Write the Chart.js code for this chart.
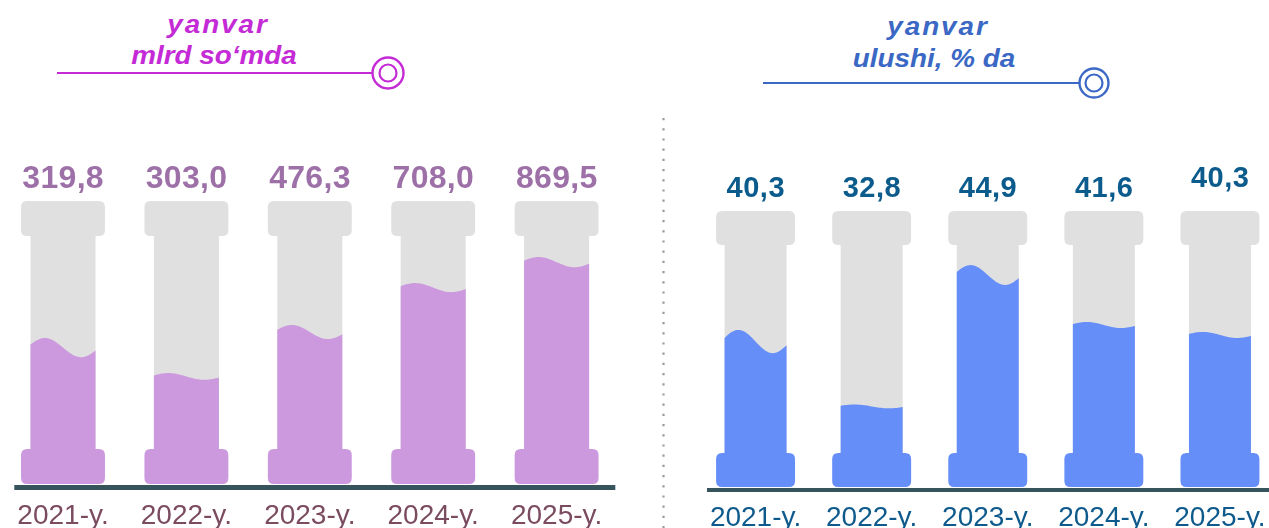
<!DOCTYPE html>
<html>
<head>
<meta charset="utf-8">
<script src="https://cdn.jsdelivr.net/npm/chart.js@4.4.1/dist/chart.umd.min.js"></script>
<style>
  html, body { margin:0; padding:0; width:1269px; height:528px; overflow:hidden; background:#ffffff; }
  body { position:relative; font-family:"Liberation Sans", Arial, sans-serif; }
  #leftBox { position:absolute; left:0; top:0; width:640px; height:528px; }
  #rightBox { position:absolute; left:680px; top:0; width:620px; height:528px; }
  .t { position:absolute; white-space:nowrap; font-weight:bold; font-style:italic; font-size:26px; line-height:30px; transform:translateX(-50%) scaleX(1.07); }
  .tl { color:#c42ad6; }
  .tr { color:#3a68c4; }
  svg.deco { position:absolute; left:0; top:0; width:1269px; height:528px; pointer-events:none; }
</style>
</head>
<body>
<svg class="deco" viewBox="0 0 1269 528">
  <line x1="57" y1="73" x2="373" y2="73" stroke="#c42ad6" stroke-width="2.2"/>
  <circle cx="388" cy="73" r="15.5" fill="#fff" stroke="#c42ad6" stroke-width="2.4"/>
  <circle cx="388" cy="73" r="8.5" fill="#fff" stroke="#c42ad6" stroke-width="2.2"/>
  <line x1="763" y1="83" x2="1080" y2="83" stroke="#3a68c4" stroke-width="2.2"/>
  <circle cx="1094" cy="83" r="14.5" fill="#fff" stroke="#3a68c4" stroke-width="2.4"/>
  <circle cx="1094" cy="83" r="8.5" fill="#fff" stroke="#3a68c4" stroke-width="2.2"/>
  <line x1="663.5" y1="118" x2="663.5" y2="528" stroke="#9a9a9a" stroke-width="2.2" stroke-dasharray="2.2 8"/>
</svg>
<div class="t tl" style="left:218px; top:9px; letter-spacing:1.8px;">yanvar</div>
<div class="t tl" style="left:214px; top:40px; letter-spacing:0px;">mlrd so‘mda</div>
<div class="t tr" style="left:938px; top:11px; letter-spacing:1.8px;">yanvar</div>
<div class="t tr" style="left:934px; top:43px; letter-spacing:0px;">ulushi, % da</div>

<div id="leftBox"><canvas id="cLeft"></canvas></div>
<div id="rightBox"><canvas id="cRight"></canvas></div>

<script>
// ---------- data ----------
const categories = ['2021-y.', '2022-y.', '2023-y.', '2024-y.', '2025-y.'];
const januaryBillionSum = [319.8, 303.0, 476.3, 708.0, 869.5];   // mlrd so'mda
const januaryShare = [40.3, 32.8, 44.9, 41.6, 40.3];             // ulushi, %
// liquid level inside each pillar (percent of pillar height)
const fillLevelSum = [48.2, 38.0, 53.7, 69.4, 78.4];
const fillLevelShare = [52.7, 29.2, 76.8, 58.7, 55.1];

const FONT = '"Liberation Sans", Arial, sans-serif';

function fmt(v) { return v.toFixed(1).replace('.', ','); }

function rrect(ctx, x, y, w, h, r) {
  ctx.beginPath();
  ctx.moveTo(x + r, y);
  ctx.lineTo(x + w - r, y);
  ctx.quadraticCurveTo(x + w, y, x + w, y + r);
  ctx.lineTo(x + w, y + h - r);
  ctx.quadraticCurveTo(x + w, y + h, x + w - r, y + h);
  ctx.lineTo(x + r, y + h);
  ctx.quadraticCurveTo(x, y + h, x, y + h - r);
  ctx.lineTo(x, y + r);
  ctx.quadraticCurveTo(x, y, x + r, y);
  ctx.closePath();
}

const pillarPlugin = {
  id: 'pillars',
  afterDatasetsDraw(chart, args, o) {
    const ctx = chart.ctx;
    const xs = chart.scales.x, ys = chart.scales.y;
    const meta = chart.getDatasetMeta(0);
    const step = xs.width / chart.data.labels.length;
    const top = ys.getPixelForValue(100);
    const bottom = ys.getPixelForValue(0);
    const capB = ys.getPixelForValue(100 - o.capH);
    const baseT = ys.getPixelForValue(o.capH);
    ctx.save();
    meta.data.forEach((bar, i) => {
      const cx = bar.x;
      const capW = step * o.capRatio, shaftW = step * o.shaftRatio;
      // gray cap + shaft
      ctx.fillStyle = o.gray;
      rrect(ctx, cx - capW / 2, top, capW, capB - top, 6);
      ctx.fill();
      ctx.fillRect(cx - shaftW / 2, capB - 1, shaftW, baseT - capB + 2);
      // liquid with wavy surface
      const lvl = bar.y;
      const amp = bottom - ys.getPixelForValue(o.waveAmp[i]);
      const L = cx - shaftW / 2;
      ctx.fillStyle = o.fill;
      ctx.beginPath();
      ctx.moveTo(L, baseT + 2);
      for (let k = 0; k <= 40; k++) {
        const t = k / 40;
        ctx.lineTo(L + t * shaftW, lvl - amp * Math.sin(2 * Math.PI * (0.9 * t + 0.05)));
      }
      ctx.lineTo(L + shaftW, baseT + 2);
      ctx.closePath();
      ctx.fill();
      // base block
      rrect(ctx, cx - capW / 2, baseT, capW, bottom - baseT, 6);
      ctx.fill();
      // value label
      ctx.font = 'bold ' + o.labelSize + 'px ' + FONT;
      try { ctx.letterSpacing = o.labelSpacing + 'px'; } catch (e) {}
      ctx.fillStyle = o.labelColor;
      ctx.textAlign = 'center';
      ctx.textBaseline = 'alphabetic';
      const ds = chart.data.datasets[0];
      ctx.fillText(fmt(ds.shownValues[i]), cx + o.labelSpacing / 2, top - o.labelGap - (o.labelLift[i] || 0));
    });
    try { ctx.letterSpacing = '0px'; } catch (e) {}
    // baseline
    ctx.fillStyle = o.axisColor;
    const x0 = xs.left + o.axisInsetL;
    const x1 = o.axisToEdge ? chart.width : xs.right - o.axisInsetR;
    ctx.fillRect(x0, bottom + 1, x1 - x0, o.axisThick);
    ctx.restore();
  }
};

function makeChart(id, levels, shown, opts) {
  return new Chart(document.getElementById(id), {
    type: 'bar',
    data: {
      labels: categories,
      datasets: [{
        data: levels,
        shownValues: shown,
        backgroundColor: 'rgba(0,0,0,0)',
        borderWidth: 0
      }]
    },
    options: {
      responsive: true,
      maintainAspectRatio: false,
      animation: false,
      devicePixelRatio: 1,
      layout: { padding: opts.padding },
      plugins: {
        legend: { display: false },
        tooltip: { enabled: false },
        title: { display: false },
        pillars: opts.pillars
      },
      scales: {
        x: {
          grid: { display: false, drawTicks: false },
          border: { display: false },
          ticks: {
            autoSkip: false, maxRotation: 0,
            padding: opts.tickPad,
            color: opts.tickColor,
            font: { family: FONT, size: 28, weight: 'normal' }
          },
          afterFit(s) { s.height = opts.axisH; }
        },
        y: { display: false, min: 0, max: 100 }
      }
    },
    plugins: [pillarPlugin]
  });
}

makeChart('cLeft', fillLevelSum, januaryBillionSum, {
  padding: { left: 1.3, right: 21.7, top: 201, bottom: 0 },
  axisH: 44, tickPad: 15, tickColor: '#7b4b5f',
  pillars: {
    capH: 12.4, capRatio: 0.68, shaftRatio: 0.527,
    gray: '#e0e0e0', fill: '#cd99de',
    waveAmp: [3.4, 1.2, 2.5, 1.6, 1.8],
    labelSize: 32, labelSpacing: 0.3, labelColor: '#9d71a8', labelGap: 13, labelLift: [0, 0, 0, 0, 0],
    axisColor: '#37545c', axisInsetL: 13, axisInsetR: 3, axisToEdge: false, axisThick: 5
  }
});

makeChart('cRight', fillLevelShare, januaryShare, {
  padding: { left: 17.5, right: 22, top: 211, bottom: 0 },
  axisH: 41, tickPad: 14, tickColor: '#0f5a8c',
  pillars: {
    capH: 12.3, capRatio: 0.68, shaftRatio: 0.534,
    gray: '#e0e0e0', fill: '#668ef9',
    waveAmp: [4.2, 0.7, 3.6, 1.1, 1.1],
    labelSize: 29, labelSpacing: 0.5, labelColor: '#0b5b8c', labelGap: 14, labelLift: [0, 0, 0, 0, 10],
    axisColor: '#37545c', axisInsetL: 9.5, axisInsetR: 0, axisToEdge: true, axisThick: 4
  }
});
</script>
</body>
</html>
